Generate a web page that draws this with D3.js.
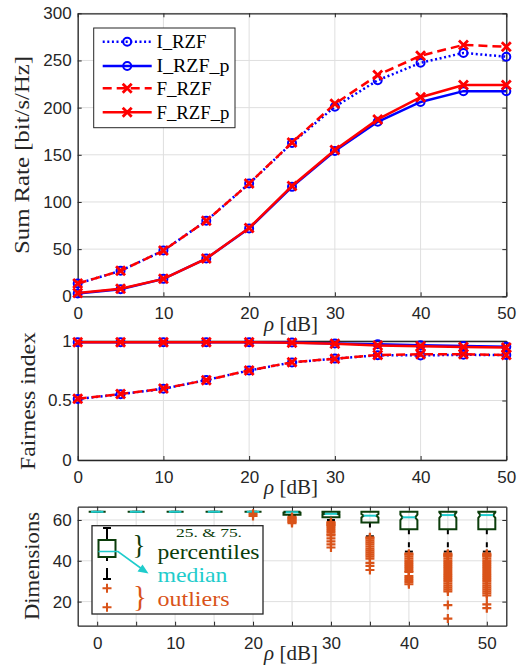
<!DOCTYPE html>
<html>
<head>
<meta charset="utf-8">
<title>Sum rate, fairness and dimensions</title>
<script src="https://cdn.jsdelivr.net/npm/d3@7"></script>
<style>
body { margin: 0; background: #fff; }
.serif { font-family: 'Liberation Serif', 'Times New Roman', serif; }
</style>
</head>
<body>
<script>
var w = 523, h = 667;

// x values, rho [dB]
var rho = [0, 5, 10, 15, 20, 25, 30, 35, 40, 45, 50];

// sum rate [bit/s/Hz]
var rateI  = [13.5, 27, 48.5, 80, 119.5, 162.5, 201, 229, 247.5, 258, 254];
var rateIp = [3, 7.5, 18.5, 40, 72, 116, 154, 185, 206, 217.5, 217.5];
var rateF  = [13.5, 27, 48.5, 80, 119.5, 163, 204, 234.5, 255, 266.5, 264.5];
var rateFp = [3.5, 8, 18.5, 40, 72.5, 117, 155, 187.5, 211, 224, 224];

// fairness index
var fairI  = [0.513, 0.553, 0.598, 0.672, 0.752, 0.82, 0.852, 0.88, 0.879, 0.884, 0.882];
var fairIp = [0.99, 0.99, 0.99, 0.99, 0.99, 0.988, 0.98, 0.972, 0.965, 0.958, 0.952];
var fairF  = [0.514, 0.554, 0.6, 0.671, 0.753, 0.821, 0.851, 0.882, 0.888, 0.888, 0.883];
var fairFp = [0.99, 0.99, 0.99, 0.99, 0.989, 0.986, 0.976, 0.963, 0.956, 0.95, 0.945];

var seriesNames = ["I_RZF", "I_RZF_p", "F_RZF", "F_RZF_p"];

// dimensions boxplot
var dimQ1  = [64, 64, 64, 64, 64, 62.5, 61.3, 58.7, 55.5, 55.5, 55.5];
var dimMed = [64, 64, 64, 64, 64, 63.8, 63, 62.1, 61.3, 62.4, 62.4];
var dimQ3  = [64, 64, 64, 64, 64, 64, 64, 64, 64, 64, 64];
var dimLow = [64, 64, 64, 64, 64, 62, 60, 52, 44.5, 44.5, 44.5];
var dimOut = [
  [], [], [], [],
  [63, 62],
  [61.5, 61, 60.5, 60, 59.5, 59, 58.5],
  [59, 58.5, 58, 57.5, 57, 56, 55, 54, 53, 52.5, 51, 49.5, 48, 46.5],
  [51.5, 51, 50, 49, 48, 47, 46, 45, 44, 43, 42, 41, 39, 37.5, 35.5],
  [43.5, 43, 42, 41, 40, 39, 38, 37, 36, 35, 34.5, 32.5, 31.5, 30.5, 29.5, 28.5],
  [43.5, 43, 42.5, 42, 41, 40, 39, 38, 37, 36, 35, 34, 33, 32, 31, 30, 29, 28, 27, 26, 25, 18.3, 11.7],
  [43.5, 43, 42.5, 42, 41, 40, 39, 38, 37, 36, 35, 34, 33, 32, 31, 30, 29, 28, 27, 26, 25, 24, 23, 18.6, 16.8]
];

var axisColor = "#262626", gridColor = "#dfdfdf";
var boxGreen = "#0b3d0b", medCyan = "#1fcccc", outOrange = "#d95319";

var svg = d3.select("body").append("svg")
  .attr("width", w)
  .attr("height", h);

var styles = [
  {color: "#0000ff", dash: "2,2.6", marker: "o"},
  {color: "#0000ff", dash: null, marker: "o"},
  {color: "#ff0000", dash: "9,5", marker: "x"},
  {color: "#ff0000", dash: null, marker: "x"}
];

function drawAxes(x, y, xVals, yVals, xFmt, yFmt) {
  var y0 = y.range()[0], y1 = y.range()[1], x0 = x.range()[0], x1 = x.range()[1];
  var grid = svg.append("g").attr("stroke", gridColor).attr("stroke-width", 1);
  grid.selectAll(".gx").data(xVals).enter().append("line")
    .attr("x1", d => x(d)).attr("x2", d => x(d)).attr("y1", y0).attr("y2", y1);
  grid.selectAll(".gy").data(yVals).enter().append("line")
    .attr("y1", d => y(d)).attr("y2", d => y(d)).attr("x1", x0).attr("x2", x1);

  var bottom = svg.append("g").attr("transform", "translate(0," + y0 + ")")
    .call(d3.axisBottom(x).tickValues(xVals).tickFormat(xFmt).tickSizeInner(-4).tickSizeOuter(0).tickPadding(11));
  var top = svg.append("g").attr("transform", "translate(0," + y1 + ")")
    .call(d3.axisTop(x).tickValues(xVals).tickFormat("").tickSizeInner(-4).tickSizeOuter(0));
  var left = svg.append("g").attr("transform", "translate(" + x0 + ",0)")
    .call(d3.axisLeft(y).tickValues(yVals).tickFormat(yFmt).tickSizeInner(-4).tickSizeOuter(0).tickPadding(6));
  var right = svg.append("g").attr("transform", "translate(" + x1 + ",0)")
    .call(d3.axisRight(y).tickValues(yVals).tickFormat("").tickSizeInner(-4).tickSizeOuter(0));
  [bottom, top, left, right].forEach(function(g) {
    g.attr("color", axisColor).attr("font-family", "'Liberation Sans', Arial, sans-serif").attr("font-size", 17);
    g.select(".domain").attr("stroke-width", 1.3);
    g.selectAll("text").attr("fill", axisColor);
  });
}

function yLabel(txt, cx, cy, len) {
  svg.append("text").attr("class", "serif")
    .attr("transform", "translate(" + cx + "," + cy + ") rotate(-90)")
    .attr("text-anchor", "middle").attr("dy", "0.35em")
    .attr("font-size", 21).attr("fill", axisColor)
    .attr("textLength", len).attr("lengthAdjust", "spacingAndGlyphs")
    .text(txt);
}

function xLabel(cx, baseY) {
  var t = svg.append("text").attr("class", "serif")
    .attr("x", cx).attr("y", baseY)
    .attr("text-anchor", "middle")
    .attr("font-size", 21).attr("fill", axisColor);
  t.append("tspan").attr("font-style", "italic").text("ρ");
  t.append("tspan").text(" [dB]");
}

function marker(g, px, py, s) {
  if (s.marker == "o") {
    g.append("circle").attr("cx", px).attr("cy", py).attr("r", 4)
      .attr("fill", "none").attr("stroke", s.color).attr("stroke-width", 2);
  } else {
    var r = 4.5;
    g.append("path")
      .attr("d", "M" + (px - r) + "," + (py - r) + "L" + (px + r) + "," + (py + r) +
                 "M" + (px - r) + "," + (py + r) + "L" + (px + r) + "," + (py - r))
      .attr("stroke", s.color).attr("stroke-width", 2.8).attr("fill", "none");
  }
}

function drawSeries(x, y, vals, s) {
  var pts = rho.map((r, i) => ({r: r, v: vals[i]}));
  var g = svg.append("g");
  g.append("path").datum(pts)
    .attr("d", d3.line().x(d => x(d.r)).y(d => y(d.v)))
    .attr("fill", "none").attr("stroke", s.color).attr("stroke-width", 2.5)
    .attr("stroke-dasharray", s.dash);
  pts.forEach(d => marker(g, x(d.r), y(d.v), s));
}

// ---------- panel 1: sum rate
var x1 = d3.scaleLinear().domain([0, 50]).range([77.7, 506.3]);
var y1 = d3.scaleLinear().domain([0, 300]).range([296.3, 13.3]);
drawAxes(x1, y1, [0, 10, 20, 30, 40, 50], [0, 50, 100, 150, 200, 250, 300], d => d, d => d);
[rateI, rateIp, rateF, rateFp].forEach((v, i) => drawSeries(x1, y1, v, styles[i]));
yLabel("Sum Rate [bit/s/Hz]", 22, 155, 198);
xLabel(291, 331);

// legend
var leg = svg.append("g");
leg.append("rect").attr("x", 93.7).attr("y", 28).attr("width", 141.3).attr("height", 99.7)
  .attr("fill", "#fff").attr("stroke", axisColor).attr("stroke-width", 1);
var legRows = [41.7, 66, 88.3, 112.3], legLen = [50, 73, 55, 73];
seriesNames.forEach(function(name, i) {
  var s = styles[i], ly = legRows[i];
  leg.append("line").attr("x1", 102.7).attr("x2", 151.7).attr("y1", ly).attr("y2", ly)
    .attr("stroke", s.color).attr("stroke-width", 2.5).attr("stroke-dasharray", s.dash);
  marker(leg, 127.2, ly, s);
  leg.append("text").attr("class", "serif")
    .attr("x", 156.5).attr("y", ly + 6.2)
    .attr("font-size", 18).attr("fill", "#000")
    .attr("textLength", legLen[i]).attr("lengthAdjust", "spacingAndGlyphs")
    .text(name);
});

// ---------- panel 2: fairness
var y2 = d3.scaleLinear().domain([0, 1]).range([460, 341]);
drawAxes(x1, y2, [0, 10, 20, 30, 40, 50], [0, 0.5, 1], d => d, d => String(d));
[fairI, fairIp, fairF, fairFp].forEach((v, i) => drawSeries(x1, y2, v, styles[i]));
yLabel("Fairness index", 27.5, 401, 138);
xLabel(291, 494);

// ---------- panel 3: dimensions boxplot
var x3 = d3.scaleLinear().domain([-2.5, 52.5]).range([77.7, 506.3]);
var y3 = d3.scaleLinear().domain([8.2, 66.5]).range([625.7, 506.7]);
drawAxes(x3, y3, rho, [20, 40, 60], d => (d % 10 == 0 ? d : ""), d => d);

var hw = 8.5, iw = 6.3, capW = 4;
var bx = svg.append("g");
rho.forEach(function(r, i) {
  var cx = x3(r);
  var q1 = dimQ1[i], q3 = dimQ3[i], md = dimMed[i];
  var n = Math.min(1.57 * (q3 - q1) / 10, q3 - md, md - q1);
  // lower whisker
  if (dimLow[i] < q1) {
    bx.append("line").attr("x1", cx).attr("x2", cx).attr("y1", y3(q1)).attr("y2", y3(dimLow[i]))
      .attr("stroke", "#000").attr("stroke-width", 2).attr("stroke-dasharray", "5,8");
  }
  bx.append("line").attr("x1", cx - capW).attr("x2", cx + capW).attr("y1", y3(dimLow[i])).attr("y2", y3(dimLow[i]))
    .attr("stroke", "#000").attr("stroke-width", 2);
  // box, notched at the median
  var p = [[cx - hw, q3], [cx - hw, md + n], [cx - iw, md], [cx - hw, md - n], [cx - hw, q1],
           [cx + hw, q1], [cx + hw, md - n], [cx + iw, md], [cx + hw, md + n], [cx + hw, q3]];
  bx.append("path")
    .attr("d", "M" + p.map(d => d[0] + "," + y3(d[1])).join("L") + "Z")
    .attr("fill", "none").attr("stroke", boxGreen).attr("stroke-width", 2);
  bx.append("line").attr("x1", cx - iw).attr("x2", cx + iw).attr("y1", y3(md)).attr("y2", y3(md))
    .attr("stroke", medCyan).attr("stroke-width", 2);
  dimOut[i].forEach(function(v) {
    var py = y3(v), r = 4.5;
    bx.append("path")
      .attr("d", "M" + (cx - r) + "," + py + "H" + (cx + r) + "M" + cx + "," + (py - r) + "V" + (py + r))
      .attr("stroke", outOrange).attr("stroke-width", 2.2);
  });
});
yLabel("Dimensions", 31.5, 566, 108);
xLabel(291, 660);

// boxplot explanation
var bl = svg.append("g");
bl.append("rect").attr("x", 92).attr("y", 525.7).attr("width", 171).attr("height", 88.3)
  .attr("fill", "#fff").attr("stroke", axisColor).attr("stroke-width", 1.3);
var lx = 107;
bl.append("line").attr("x1", lx - capW).attr("x2", lx + capW).attr("y1", 528).attr("y2", 528).attr("stroke", "#000").attr("stroke-width", 2);
bl.append("line").attr("x1", lx).attr("x2", lx).attr("y1", 528).attr("y2", 540).attr("stroke", "#000").attr("stroke-width", 2);
bl.append("line").attr("x1", lx).attr("x2", lx).attr("y1", 557).attr("y2", 561).attr("stroke", "#000").attr("stroke-width", 2);
bl.append("line").attr("x1", lx).attr("x2", lx).attr("y1", 568).attr("y2", 579).attr("stroke", "#000").attr("stroke-width", 2);
bl.append("line").attr("x1", lx - capW).attr("x2", lx + capW).attr("y1", 579).attr("y2", 579).attr("stroke", "#000").attr("stroke-width", 2);
bl.append("rect").attr("x", lx - hw).attr("y", 540).attr("width", 2 * hw).attr("height", 17)
  .attr("fill", "none").attr("stroke", boxGreen).attr("stroke-width", 2);
bl.append("path").attr("d", "M" + (lx - hw) + ",551.5H118L142,569")
  .attr("fill", "none").attr("stroke", medCyan).attr("stroke-width", 1.6);
bl.append("path").attr("d", "M148.5,573.5L137.5,571.5L142.5,564.5Z").attr("fill", medCyan);
[588.3, 607.3].forEach(function(py) {
  bl.append("path")
    .attr("d", "M" + (lx - 4.5) + "," + py + "H" + (lx + 4.5) + "M" + lx + "," + (py - 4.5) + "V" + (py + 4.5))
    .attr("stroke", outOrange).attr("stroke-width", 2);
});
function legText(txt, x, y, size, color, len) {
  bl.append("text").attr("class", "serif").attr("x", x).attr("y", y)
    .attr("font-size", size).attr("fill", color)
    .attr("textLength", len).attr("lengthAdjust", "spacingAndGlyphs")
    .text(txt);
}
bl.append("text").attr("class", "serif").attr("x", 139).attr("y", 553.5).attr("text-anchor", "middle")
  .attr("font-size", 27).attr("fill", boxGreen).text("}");
bl.append("text").attr("class", "serif").attr("x", 140).attr("y", 605.5).attr("text-anchor", "middle")
  .attr("font-size", 29).attr("fill", outOrange).text("}");
legText("25. & 75.", 176, 536.5, 12.5, boxGreen, 66);
legText("percentiles", 157.5, 558.5, 21, boxGreen, 102);
legText("median", 157.5, 581.5, 21, medCyan, 70);
legText("outliers", 157.5, 605.5, 21, outOrange, 72);
</script>
</body>
</html>
